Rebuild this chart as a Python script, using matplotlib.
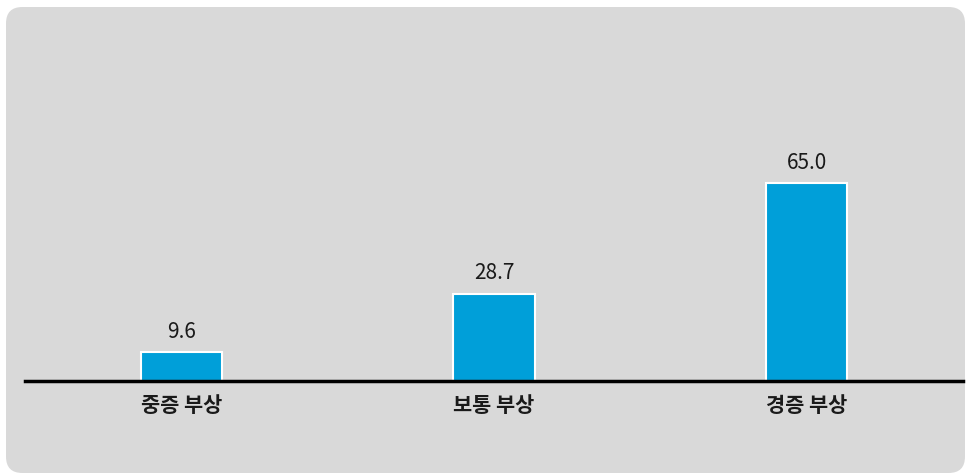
import matplotlib.pyplot as plt
from matplotlib.patches import FancyBboxPatch

# 부상 정도별 비율
categories = ['중증 부상', '보통 부상', '경증 부상']
values = [9.6, 28.7, 65.0]
value_labels = ['9.6', '28.7', '65.0']

plt.rcParams['font.family'] = ['Noto Sans CJK KR', 'DejaVu Sans']

W, H = 966, 474
fig = plt.figure(figsize=(W / 100, H / 100), dpi=100)
fig.patch.set_facecolor('white')

# 둥근 회색 배경
bg = FancyBboxPatch((6 / W, 1 / H), 959 / W, 466 / H,
                    boxstyle='round,pad=0,rounding_size=0.017',
                    transform=fig.transFigure, facecolor='#d9d9d9',
                    edgecolor='none', mutation_aspect=W / H, zorder=-1)
fig.patches.append(bg)

ymax = 100
px_per_unit = 198 / 65.0
ax = fig.add_axes([25 / W, (H - 381) / H, 938 / W, ymax * px_per_unit / H])
ax.set_facecolor('none')
ax.set_zorder(2)

x = range(len(categories))
ax.bar(x, values, width=0.26, color='#009fd9', edgecolor='white', linewidth=1.5, zorder=2)
for i, v in enumerate(values):
    ax.text(i, v + 3.0, value_labels[i], ha='center', va='bottom', fontsize=15, color='#1a1a1a')

ax.set_xlim(-0.5, len(categories) - 0.5)
ax.set_ylim(0, ymax)
ax.set_xticks(list(x))
ax.set_xticklabels(categories, fontsize=15, fontweight='bold', color='#1a1a1a')
ax.tick_params(axis='x', length=0, pad=10)
ax.set_yticks([])
for s in ['top', 'right', 'left']:
    ax.spines[s].set_visible(False)
ax.spines['bottom'].set_linewidth(2.5)
ax.spines['bottom'].set_color('black')
ax.spines['bottom'].set_zorder(3)

fig.savefig('out.png', dpi=100)
